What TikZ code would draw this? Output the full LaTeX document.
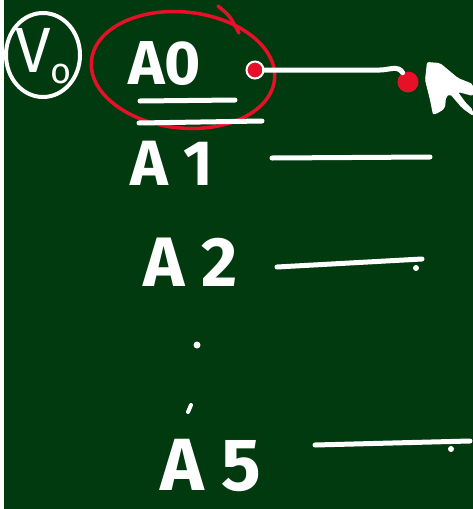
\documentclass[tikz,border=0pt]{standalone}
\usepackage{fontspec}
\setsansfont{Fira Sans}
\definecolor{board}{RGB}{1,58,14}
\definecolor{inkred}{RGB}{230,16,40}
\begin{document}
\begin{tikzpicture}[x=1pt,y=-1pt,font=\sffamily\bfseries,line cap=round,
  chalk/.style={draw=white,line width=5pt},
  ink/.style={draw=inkred,line width=3.5pt},
  lbl/.style={text=white,anchor=base west,inner sep=0pt},
  spot/.style={circle,fill=white,inner sep=0pt,minimum size=6pt}]
\fill[white] (0,0) rectangle (473,509);
\fill[board] (4,0) rectangle (473,509);
\useasboundingbox (0,0) rectangle (473,509);
% circled V0
\draw[chalk,line width=4pt] (43,55) ellipse [x radius=37,y radius=42];
\node[lbl,font=\sffamily\fontsize{64}{64}\selectfont] (v0) at (15,72) {V\raisebox{-0.18em}{\fontsize{36}{36}\selectfont o}};
% A0, circled in red
\node[lbl,font=\sffamily\bfseries\fontsize{62}{62}\selectfont] (a0) at (128,84) {A0};
\draw[ink,rotate around={-6:(183,70)}] (183,70) ellipse [x radius=92,y radius=58];
\draw[ink] (218,6) .. controls (230,16) .. (239,33);
\draw[chalk] (140,101) -- (235,100);
\draw[chalk] (139,123) -- (262,121);
\node[circle,fill=inkred,draw=white,line width=2pt,minimum size=17pt,inner sep=0pt] (dot0) at (255,70) {};
\node[circle,fill=inkred,minimum size=21pt,inner sep=0pt] (hit) at (408,82) {};
\draw[chalk] (dot0.east) -- (380,70) to[out=0,in=120] (hit);
\fill[white,rounded corners=2pt] (427,62) -- (440,63) -- (458,78) -- (473,84) -- (473,96) -- (458,92)
  -- (466,103) -- (473,110) -- (473,116) -- (462,108) -- (450,94) -- (446,97) -- (445,108)
  -- (440,112) -- (433,115) -- (430,100) -- (425,80) -- cycle;
% the other rows
\node[lbl,font=\sffamily\bfseries\fontsize{64}{64}\selectfont] (a1) at (130,185) {A\hspace{0.25em}1};
\coordinate (l1s) at (272,158);
\coordinate (l1e) at (430,157);
\draw[chalk] (l1s) -- (l1e);
\node[lbl,font=\sffamily\bfseries\fontsize{70}{70}\selectfont] (a2) at (143,286) {A 2};
\coordinate (l2s) at (277,267);
\coordinate (l2e) at (422,259);
\draw[chalk] (l2s) -- (l2e);
\node[spot] (d2) at (416,268) {};
\node[spot,minimum size=7pt] (gap1) at (197,345) {};
\draw[white,line width=4pt] (188,412) -- (191,405);
\node[lbl,font=\sffamily\bfseries\fontsize{74}{74}\selectfont] (a5) at (160,490) {A 5};
\coordinate (l5s) at (315,445);
\coordinate (l5e) at (470,441);
\draw[chalk] (l5s) -- (l5e);
\node[spot] (d5) at (451,449) {};
\end{tikzpicture}
\end{document}
